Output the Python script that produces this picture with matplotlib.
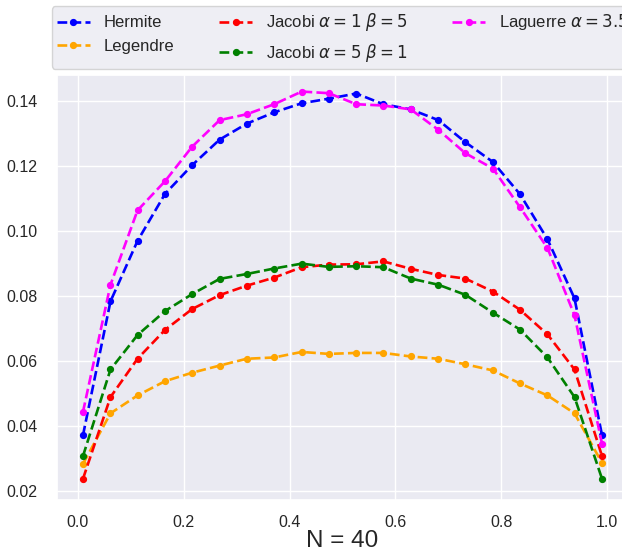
import matplotlib
matplotlib.use("Agg")
import matplotlib.pyplot as plt
import seaborn as sns

sns.set_theme(style="darkgrid")
plt.rcParams['font.family'] = ['Liberation Sans', 'DejaVu Sans']

x = [0.010, 0.062, 0.113, 0.165, 0.216, 0.268, 0.319, 0.371, 0.423, 0.474,
     0.526, 0.577, 0.629, 0.681, 0.732, 0.784, 0.835, 0.887, 0.938, 0.990]

hermite = [0.0370, 0.0783, 0.0969, 0.1114, 0.1202, 0.1281, 0.1330, 0.1365, 0.1393, 0.1407,
           0.1423, 0.1390, 0.1374, 0.1341, 0.1273, 0.1212, 0.1113, 0.0974, 0.0792, 0.0370]
legendre = [0.0282, 0.0438, 0.0493, 0.0537, 0.0563, 0.0585, 0.0606, 0.0610, 0.0627, 0.0621,
            0.0624, 0.0624, 0.0613, 0.0606, 0.0589, 0.0570, 0.0530, 0.0493, 0.0438, 0.0285]
jacobi_15 = [0.0236, 0.0488, 0.0606, 0.0695, 0.0759, 0.0802, 0.0831, 0.0856, 0.0888, 0.0896,
             0.0897, 0.0906, 0.0883, 0.0864, 0.0853, 0.0813, 0.0757, 0.0681, 0.0573, 0.0306]
jacobi_51 = [0.0306, 0.0573, 0.0679, 0.0753, 0.0805, 0.0852, 0.0867, 0.0884, 0.0899, 0.0889,
             0.0891, 0.0888, 0.0853, 0.0834, 0.0803, 0.0748, 0.0696, 0.0610, 0.0488, 0.0236]
laguerre = [0.0442, 0.0834, 0.1063, 0.1153, 0.1259, 0.1341, 0.1359, 0.1390, 0.1429, 0.1424,
            0.1390, 0.1386, 0.1374, 0.1311, 0.1239, 0.1192, 0.1073, 0.0947, 0.0740, 0.0344]

series = [
    (hermite, "blue", "Hermite"),
    (legendre, "orange", "Legendre"),
    (jacobi_15, "red", r"Jacobi $\alpha = 1$ $\beta = 5$"),
    (jacobi_51, "green", r"Jacobi $\alpha = 5$ $\beta = 1$"),
    (laguerre, "magenta", r"Laguerre $\alpha = 3.5$"),
]

fig = plt.figure(figsize=(6.22, 5.53), dpi=100)
ax = fig.add_axes([57 / 622, 53 / 553, 571 / 622, 425 / 553])

for ys, c, lab in series:
    ax.plot(x, ys, "--o", color=c, label=lab, markersize=4.2, linewidth=1.9)

ax.set_ylim(0.0171, 0.148)
ax.tick_params(axis="x", labelsize=11.5, pad=4.5)
ax.tick_params(axis="y", labelsize=11.5, pad=8)
ax.set_xlabel("N = 40", fontsize=17.5, labelpad=0)
ax.legend(loc="lower center", bbox_to_anchor=(0.5, 0.995), ncol=3, fontsize=12,
          columnspacing=2.7, handlelength=2.0, borderpad=0.3, labelspacing=0.5)

fig.savefig("out.png", dpi=100)
